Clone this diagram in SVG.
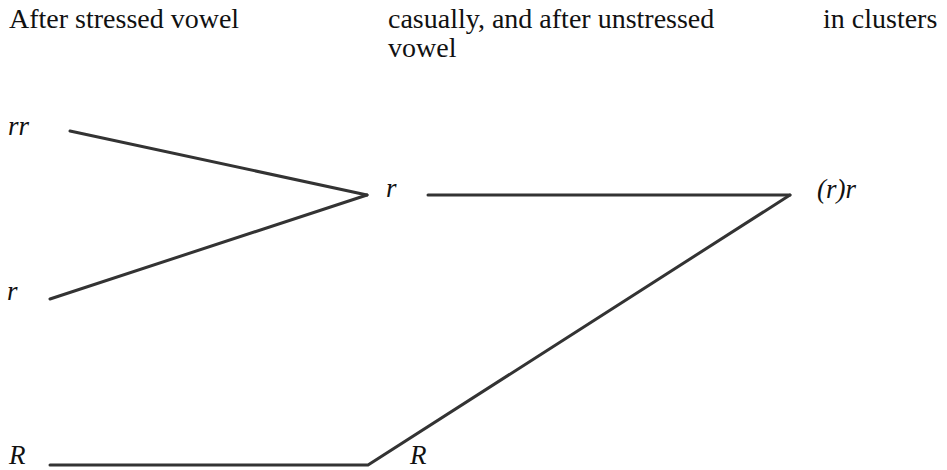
<svg xmlns="http://www.w3.org/2000/svg" width="947" height="470" viewBox="0 0 947 470">
<style>
text{font-family:'Liberation Serif','Times New Roman',Times,'DejaVu Serif',serif;fill:#111}
.hdr{font-size:28px}
.lbl{font-size:27px;font-style:italic}
.edge{stroke:#333;stroke-width:3;fill:none;stroke-linecap:round;stroke-linejoin:miter}
</style>
<rect width="947" height="470" fill="#fff"/>
<g id="headers">
<text class="hdr" x="9" y="28" font-family="Liberation Serif, serif">After stressed vowel</text>
<text class="hdr" x="388" y="28" font-family="Liberation Serif, serif">casually, and after unstressed</text>
<text class="hdr" x="388" y="57" font-family="Liberation Serif, serif">vowel</text>
<text class="hdr" x="823" y="28" font-family="Liberation Serif, serif">in clusters</text>
</g>
<g id="node-rr"><text class="lbl" x="8" y="135">rr</text></g>
<g id="node-r-left"><text class="lbl" x="7" y="300">r</text></g>
<g id="node-r-mid"><text class="lbl" x="386" y="197">r</text></g>
<g id="node-r-paren"><text class="lbl" x="817" y="198">(r)r</text></g>
<g id="node-R-left"><text class="lbl" x="9" y="464">R</text></g>
<g id="node-R-mid"><text class="lbl" x="410" y="464">R</text></g>
<g id="connectors">
<line class="edge" x1="70" y1="131" x2="367" y2="195"/>
<line class="edge" x1="50" y1="299" x2="367" y2="195"/>
<line class="edge" x1="428" y1="195" x2="790" y2="195"/>
<polyline class="edge" points="50,465 368,465 790,195"/>
</g>
</svg>
